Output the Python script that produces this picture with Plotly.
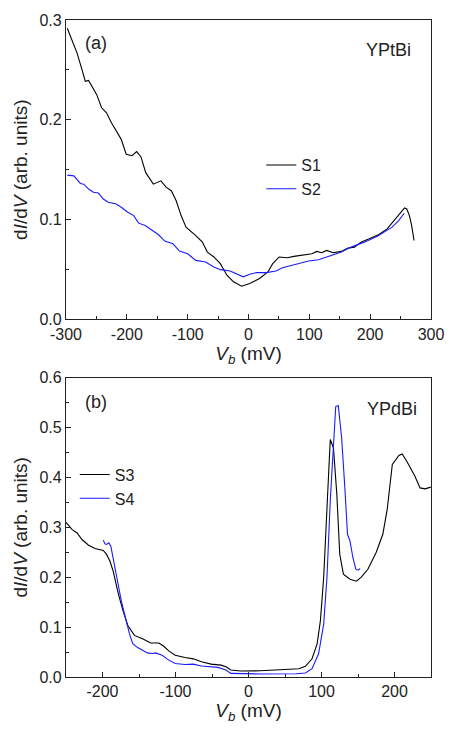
import plotly.graph_objects as go
from plotly.subplots import make_subplots

# Panel (a) YPtBi
s1_v = [-297.9, -289.8, -281.8, -273.7, -268.3, -262.9, -257.6, -249.5, -241.5, -233.4, -225.3, -217.3, -209.2,
        -201.1, -191.4, -183.9, -176.9, -168.9, -156.5, -144.0, -135.0, -126.9, -118.9, -110.8, -102.7, -86.6,
        -75.8, -67.7, -56.9, -46.3, -35.5, -24.7, -11.3, 2.1, 18.2, 31.8, 39.8, 50.5, 63.9, 74.7, 93.5, 104.2,
        112.3, 120.3, 128.4, 139.2, 152.6, 163.4, 174.2, 184.9, 198.4, 214.5, 227.9, 241.4, 249.5, 256.5, 260.2,
        264.5, 268.2, 272.1]
s1_g = [0.2917, 0.280, 0.2668, 0.2502, 0.2385, 0.2395, 0.2335, 0.2252, 0.212, 0.207, 0.197, 0.1887, 0.1804,
        0.1655, 0.1640, 0.1681, 0.1630, 0.1470, 0.1355, 0.1388, 0.1322, 0.1289, 0.1189, 0.104, 0.0924, 0.084,
        0.0774, 0.0674, 0.0625, 0.0558, 0.0442, 0.0376, 0.0332, 0.0359, 0.0409, 0.0475, 0.0558, 0.0625, 0.0618,
        0.0631, 0.0651, 0.0658, 0.0681, 0.0668, 0.0691, 0.0668, 0.0681, 0.0714, 0.0724, 0.0774, 0.0807, 0.085,
        0.0907, 0.1007, 0.1056, 0.1116, 0.1106, 0.104, 0.094, 0.079]
s2_v = [-297.9, -287.1, -276.3, -270.9, -262.9, -254.8, -246.8, -238.7, -230.6, -217.3, -209.2, -198.4, -188.7,
        -180.6, -169.8, -159.1, -148.4, -137.6, -124.2, -113.4, -100.0, -86.6, -70.5, -56.9, -46.3, -30.2, -19.4,
        -8.6, 2.1, 12.9, 29.0, 45.2, 55.9, 77.4, 98.9, 115.0, 131.1, 152.6, 168.7, 190.3, 211.8, 227.9, 236.0,
        246.8, 256.0]
s2_g = [0.1445, 0.1438, 0.1362, 0.1355, 0.1306, 0.1273, 0.1266, 0.1206, 0.1173, 0.1156, 0.1123, 0.1073, 0.104,
        0.0964, 0.094, 0.0897, 0.085, 0.0784, 0.0757, 0.0685, 0.0658, 0.0591, 0.0575, 0.0525, 0.0498, 0.0485, 0.0458,
        0.0426, 0.0452, 0.0468, 0.0468, 0.0485, 0.0518, 0.0548, 0.0585, 0.0598, 0.0631, 0.0674, 0.0724, 0.0774,
        0.0834, 0.089, 0.0924, 0.099, 0.1063]

# Panel (b) YPdBi
s3_v = [-250, -241.5, -234.8, -228.1, -219.1, -210.1, -198.9, -194.4, -189.9, -185.5, -178.8, -172.0, -165.3,
        -156.3, -145.2, -134.0, -122.8, -116.0, -109.3, -100.4, -86.9, -75.7, -64.5, -51.1, -37.6, -30.9, -24.2,
        -10.8, 16.1, 47, 69, 78, 87, 94, 98.5, 103, 107.5, 112, 116.4, 121, 125, 130, 139, 148, 154.5, 163.5, 175,
        184, 190, 197, 206, 210.5, 217, 228, 235, 242, 249.6]
s3_g = [0.31, 0.2954, 0.2887, 0.2755, 0.2642, 0.2576, 0.2537, 0.2457, 0.2324, 0.2126, 0.1695, 0.1331, 0.1033,
        0.0834, 0.0768, 0.0682, 0.0682, 0.0616, 0.0523, 0.0437, 0.0391, 0.0364, 0.0304, 0.0258, 0.0238, 0.0205,
        0.0139, 0.0119, 0.0125, 0.0153, 0.0166, 0.0213, 0.0366, 0.0665, 0.113, 0.2, 0.339, 0.476, 0.459, 0.366,
        0.246, 0.206, 0.196, 0.192, 0.2, 0.216, 0.25, 0.286, 0.336, 0.426, 0.444, 0.447, 0.432, 0.4025, 0.379,
        0.377, 0.3806]
s4_v = [-198.9, -196.6, -194.4, -191.3, -188.6, -185.5, -181.0, -174.3, -167.6, -163.1, -158.6, -151.9, -145.2,
        -138.4, -131.7, -127.3, -118.3, -109.3, -100.4, -86.9, -75.7, -64.5, -42.0, -30.9, -24.2, 16.1, 65, 78,
        87, 96, 103, 107.5, 112, 116.4, 119.5, 123, 127.6, 132, 135.6, 139, 143, 147, 150, 153]
s4_g = [0.2742, 0.2668, 0.2656, 0.2688, 0.2623, 0.239, 0.1993, 0.153, 0.1132, 0.0868, 0.067, 0.059, 0.0536,
        0.0483, 0.047, 0.0483, 0.0437, 0.0338, 0.0272, 0.0252, 0.0258, 0.0219, 0.0193, 0.0139, 0.0073, 0.006,
        0.0065, 0.008, 0.0166, 0.0466, 0.106, 0.2, 0.353, 0.479, 0.542, 0.544, 0.479, 0.379, 0.286, 0.273, 0.2395,
        0.216, 0.214, 0.217]

xa_ticks = [-300, -200, -100, 0, 100, 200, 300]
xb_ticks = [-200, -100, 0, 100, 200]
ya_ticks = [0.0, 0.1, 0.2, 0.3]
yb_ticks = [0.0, 0.1, 0.2, 0.3, 0.4, 0.5, 0.6]

FONT = "Liberation Sans, Arial, sans-serif"
BLACK = "#000000"
BLUE = "#1a1aff"
INK = "#222222"

fig = make_subplots(rows=2, cols=1, vertical_spacing=0.0887)

fig.add_trace(go.Scatter(x=s1_v, y=s1_g, mode="lines", name="S1", line=dict(color=BLACK, width=1.1), legend="legend"), row=1, col=1)
fig.add_trace(go.Scatter(x=s2_v, y=s2_g, mode="lines", name="S2", line=dict(color=BLUE, width=1.1), legend="legend"), row=1, col=1)
fig.add_trace(go.Scatter(x=s3_v, y=s3_g, mode="lines", name="S3", line=dict(color=BLACK, width=1.1), legend="legend2"), row=2, col=1)
fig.add_trace(go.Scatter(x=s4_v, y=s4_g, mode="lines", name="S4", line=dict(color=BLUE, width=1.1), legend="legend2"), row=2, col=1)

common_axis = dict(showline=True, linecolor=INK, linewidth=1.2, mirror=True, ticks="inside",
                   ticklen=5, tickwidth=1, tickcolor=INK, showgrid=False, zeroline=False,
                   tickfont=dict(family=FONT, size=16, color=INK))

fig.update_xaxes(**common_axis)
fig.update_yaxes(**common_axis)

xtitle = dict(text="<i>V<sub>b</sub></i> (mV)", font=dict(family=FONT, size=19, color=INK), standoff=4)
ytitle = dict(text="d<i>I</i>/d<i>V</i> (arb. units)", font=dict(family=FONT, size=19, color=INK), standoff=6)

fig.update_xaxes(range=[-300, 300], tickvals=xa_ticks, ticktext=[str(v) for v in xa_ticks],
                 minor=dict(ticks="inside", dtick=50, ticklen=3, tickcolor=INK), title=xtitle, row=1, col=1)
fig.update_xaxes(range=[-250, 250], tickvals=xb_ticks, ticktext=[str(v) for v in xb_ticks],
                 minor=dict(ticks="inside", dtick=50, ticklen=3, tickcolor=INK), title=xtitle, row=2, col=1)
fig.update_yaxes(range=[0, 0.3], tickvals=ya_ticks, ticktext=[f"{v:.1f}" for v in ya_ticks],
                 minor=dict(ticks="inside", dtick=0.05, ticklen=3, tickcolor=INK), title=ytitle, row=1, col=1)
fig.update_yaxes(range=[0, 0.6], tickvals=yb_ticks, ticktext=[f"{v:.1f}" for v in yb_ticks],
                 minor=dict(ticks="inside", dtick=0.05, ticklen=3, tickcolor=INK), title=ytitle, row=2, col=1)

fig.update_layout(
    width=456, height=731,
    margin=dict(l=66, r=18, t=15, b=54),
    paper_bgcolor="white", plot_bgcolor="white",
    font=dict(family=FONT, size=16, color=INK),
    showlegend=True,
    legend=dict(x=0.535, y=0.805, xanchor="left", yanchor="top", bgcolor="rgba(0,0,0,0)",
                font=dict(family=FONT, size=16, color=INK), tracegroupgap=0, itemwidth=30),
    legend2=dict(x=0.024, y=0.334, xanchor="left", yanchor="top", bgcolor="rgba(0,0,0,0)",
                 font=dict(family=FONT, size=16, color=INK), tracegroupgap=0, itemwidth=30),
    annotations=[
        dict(text="(a)", xref="x domain", yref="y domain", x=0.046, y=0.924, showarrow=False,
             font=dict(family=FONT, size=18, color=INK), xanchor="left", yanchor="middle"),
        dict(text="YPtBi", xref="x domain", yref="y domain", x=0.884, y=0.9, showarrow=False,
             font=dict(family=FONT, size=18, color=INK), xanchor="center", yanchor="middle"),
        dict(text="(b)", xref="x2 domain", yref="y2 domain", x=0.046, y=0.92, showarrow=False,
             font=dict(family=FONT, size=18, color=INK), xanchor="left", yanchor="middle"),
        dict(text="YPdBi", xref="x2 domain", yref="y2 domain", x=0.892, y=0.894, showarrow=False,
             font=dict(family=FONT, size=18, color=INK), xanchor="center", yanchor="middle"),
    ],
)

fig.write_html("out.html")
